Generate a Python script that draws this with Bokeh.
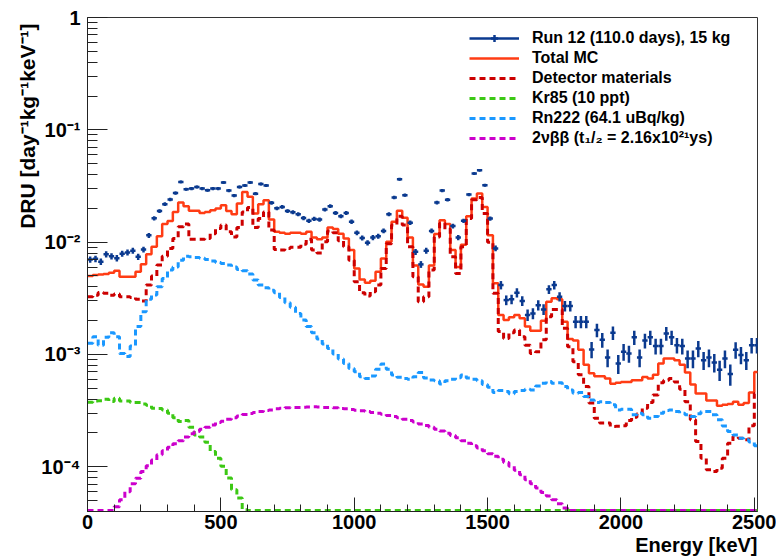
import numpy as np
from bokeh.plotting import figure
from bokeh.models import (Legend, LegendItem, Title, FixedTicker, SingleIntervalTicker,
                          CustomJSTickFormatter, Range1d)
from bokeh.embed import file_html
from bokeh.resources import INLINE

# ---------------- data (20 keV bins, 0 .. 2520 keV) ----------------
bin_width = 20.0
bin_edges = np.arange(0, 2521, 20)

data_run12 = [
    0.0070, 0.0071, 0.0067, 0.0078, 0.0075, 0.0072, 0.0079, 0.0081, 0.0084, 0.0074,
    0.0086, 0.0115, 0.0163, 0.0189, 0.0218, 0.0240, 0.0274, 0.0344, 0.0296, 0.0300,
    0.0310, 0.0300, 0.0290, 0.0300, 0.0300, 0.0340, 0.0288, 0.0260, 0.0310, 0.0320,
    0.0340, 0.0270, 0.0330, 0.0320, 0.0224, 0.0200, 0.0206, 0.0189, 0.0185, 0.0177,
    0.0164, 0.0155, 0.0161, 0.0159, 0.0195, 0.0209, 0.0182, 0.0170, 0.0182, 0.0152,
    0.0121, 0.0109, 0.00986, 0.0110, 0.0113, 0.0126, 0.0177, 0.0250, 0.0363, 0.0262,
    0.0149, 0.0082, 0.00634, 0.0084, 0.0126, 0.0225, 0.0288, 0.0239, 0.0139, 0.0110,
    0.0155, 0.0265, 0.0408, 0.0437, 0.0321, 0.0162, 0.0088,
    0.00415, 0.00305, 0.0031, 0.00355, 0.0030, 0.00225, 0.00232, 0.00275, 0.00252, 0.0038,
    0.00415, 0.00327, 0.0027, 0.0027, 0.00196, 0.00196, 0.00196, 0.00111, 0.00165, 0.00135,
    0.00094, 0.00156, 0.00083, 0.00106, 0.00102, 0.00142, 0.00094, 0.00133, 0.00142, 0.00119,
    0.00119, 0.00154, 0.00142, 0.00121, 0.00119, 0.00092, 0.00092, 0.00113, 0.00089, 0.00094,
    0.00085, 0.00073, 0.00092, 0.00067, 0.0011, 0.00099, 0.00089, 0.00121, 0.00121,
]

total_mc = [
    0.00499, 0.0051, 0.00516, 0.0052, 0.00533, 0.00556, 0.00492, 0.00492, 0.00492, 0.00545,
    0.00637, 0.00782, 0.0091, 0.0113, 0.0145, 0.0154, 0.0186, 0.0225, 0.0209, 0.0190,
    0.0190, 0.0182, 0.0186, 0.0192, 0.0199, 0.0213, 0.0189, 0.0177, 0.0221, 0.0280,
    0.0253, 0.0180, 0.0218, 0.0236, 0.0159, 0.0124, 0.0121, 0.0119, 0.0121, 0.0121,
    0.0119, 0.0124, 0.0110, 0.0106, 0.0110, 0.0135, 0.0131, 0.0119, 0.0108, 0.0085,
    0.00583, 0.00466, 0.00435, 0.00453, 0.00545, 0.00716, 0.0101, 0.0152, 0.0190, 0.0165,
    0.0110, 0.0062, 0.0042, 0.0040, 0.0062, 0.0118, 0.0157, 0.0145, 0.0085, 0.0060,
    0.0095, 0.0170, 0.0245, 0.0271, 0.0206, 0.0115, 0.0043, 0.00225, 0.00203, 0.00214,
    0.00225, 0.0021, 0.00177,
    0.00163, 0.00163, 0.0020, 0.00295, 0.00316, 0.0031, 0.00196, 0.00137, 0.00133, 0.0011,
    0.00081, 0.00068, 0.00064, 0.00064, 0.00061, 0.00055, 0.00056, 0.00057, 0.00057, 0.00059,
    0.00059, 0.00063, 0.00061, 0.00066, 0.00083, 0.00092, 0.00092, 0.00089, 0.00081, 0.00069,
    0.00054, 0.00045, 0.00045, 0.00039, 0.00039, 0.00035, 0.000356, 0.000363, 0.00038, 0.000356,
    0.00037, 0.000458, 0.0007,
]

detector_materials = [
    0.00327, 0.00336, 0.00357, 0.0035, 0.00336, 0.00345, 0.00327, 0.00327, 0.00322, 0.0031,
    0.00299, 0.00415, 0.0050, 0.00625, 0.0075, 0.0088, 0.0108, 0.0137, 0.0145, 0.0106,
    0.0106, 0.0106, 0.0108, 0.0119, 0.0132, 0.0142, 0.0124, 0.0111, 0.0135, 0.0186,
    0.0203, 0.0135, 0.0162, 0.0186, 0.0128, 0.0086, 0.0085, 0.0088, 0.0090, 0.0090,
    0.0096, 0.0106, 0.0085, 0.0080, 0.0101, 0.0126, 0.0121, 0.0103, 0.0091, 0.0069,
    0.00444, 0.00355, 0.00331, 0.00362, 0.00415, 0.00583, 0.0097, 0.0142, 0.0170, 0.0142,
    0.0091, 0.00492, 0.00295, 0.00327, 0.00564, 0.0111, 0.0147, 0.0130, 0.0074, 0.00527,
    0.0091, 0.0162, 0.0239, 0.0250, 0.0180, 0.0100, 0.0035, 0.0016, 0.00139, 0.00156,
    0.00165, 0.00144, 0.00121,
    0.00102, 0.00106, 0.00135, 0.00217, 0.00252, 0.00252, 0.00171, 0.00117, 0.00086, 0.00066,
    0.00052, 0.00037, 0.00027, 0.000245, 0.000246, 0.000228, 0.00023, 0.000232, 0.000258, 0.000276,
    0.000296, 0.000332, 0.000373, 0.000436, 0.00056, 0.00059, 0.00061, 0.00057, 0.00049, 0.00038,
    0.000262, 0.000168, 0.000119, 0.000094, 0.000091, 0.000097, 0.000119, 0.000162, 0.000186, 0.00018,
    0.000174, 0.000232, 0.00045,
]

kr85 = [
    3.76e-4, 3.86e-4, 3.88e-4, 3.99e-4, 3.81e-4, 4.08e-4, 3.86e-4, 3.86e-4, 3.73e-4, 3.73e-4,
    3.63e-4, 3.53e-4, 3.32e-4, 3.30e-4, 3.21e-4, 3.00e-4, 2.74e-4, 2.53e-4, 2.58e-4, 2.25e-4,
    1.92e-4, 1.84e-4, 1.65e-4, 1.37e-4, 1.19e-4, 1.01e-4, 7.94e-5, 6.25e-5, 5.27e-5, 4.15e-5,
    0, 0, 0, 0, 0, 0, 0, 0, 0, 0, 0, 0, 0, 0, 0, 0, 0, 0, 0, 0,
    0, 0, 0, 0, 0, 0, 0, 0, 0, 0, 0, 0, 0, 0, 0, 0, 0, 0, 0, 0,
    0, 0, 0, 0, 0, 0, 0, 0, 0, 0, 0, 0, 0, 0, 0, 0, 0, 0, 0, 0,
    0, 0, 0, 0, 0, 0, 0, 0, 0, 0, 0, 0, 0, 0, 0, 0, 0, 0, 0, 0,
    0, 0, 0, 0, 0, 0, 0, 0, 0, 0, 0, 0, 0, 0, 0, 0,
]

rn222 = [
    0.00126, 0.00144, 0.00121, 0.00142, 0.00156, 0.00144, 0.00102, 0.00096, 0.00119, 0.00177,
    0.0024, 0.0031, 0.00338, 0.0040, 0.00475, 0.00564, 0.0060, 0.0069, 0.0075, 0.0074,
    0.0073, 0.0072, 0.0070, 0.0068, 0.0066, 0.00646, 0.00625, 0.0060, 0.00572, 0.00556,
    0.0052, 0.0046, 0.00415, 0.00393, 0.00374, 0.00355, 0.00322, 0.00289, 0.00263, 0.00232,
    0.00203, 0.00177, 0.00156, 0.00137, 0.00124, 0.00113, 0.00101, 0.00091, 0.00083, 0.00075,
    0.000703, 0.000635, 0.00061, 0.000644, 0.000738, 0.000824, 0.000738, 0.000657, 0.000627, 0.00061,
    0.000602, 0.000635, 0.00069, 0.000618, 0.000593, 0.000585, 0.000547, 0.000585, 0.000602, 0.000622,
    0.000657, 0.000618, 0.000602, 0.000585, 0.00054, 0.00051, 0.000458, 0.000477, 0.000468, 0.000446,
    0.000468, 0.000477, 0.00049,
    0.000483, 0.000525, 0.000555, 0.000574, 0.000555, 0.00056, 0.000518, 0.000483, 0.000452, 0.000458,
    0.000422, 0.000394, 0.000373, 0.00038, 0.000373, 0.000356, 0.000321, 0.000325, 0.000325, 0.00029,
    0.0003, 0.00029, 0.000271, 0.00028, 0.0003, 0.000317, 0.000321, 0.00031, 0.0003, 0.00029,
    0.00028, 0.000296, 0.00031, 0.00031, 0.00029, 0.000262, 0.000231, 0.000206, 0.000192, 0.00018,
    0.000174, 0.000166, 0.000154,
]

two_nu_bb = [
    0, 0, 0, 0, 0, 4.4e-5, 5.1e-5, 6.0e-5, 7.06e-5, 7.9e-5,
    9.1e-5, 1.02e-4, 1.15e-4, 1.28e-4, 1.39e-4, 1.49e-4, 1.60e-4, 1.71e-4, 1.84e-4, 1.97e-4,
    2.06e-4, 2.16e-4, 2.25e-4, 2.36e-4, 2.48e-4, 2.55e-4, 2.65e-4, 2.74e-4, 2.84e-4, 2.92e-4,
    2.98e-4, 3.04e-4, 3.10e-4, 3.17e-4, 3.21e-4, 3.28e-4, 3.32e-4, 3.35e-4, 3.37e-4, 3.37e-4,
    3.39e-4, 3.41e-4, 3.42e-4, 3.40e-4, 3.38e-4, 3.37e-4, 3.35e-4, 3.30e-4, 3.28e-4, 3.23e-4,
    3.19e-4, 3.16e-4, 3.10e-4, 3.04e-4, 3.00e-4, 2.94e-4, 2.86e-4, 2.80e-4, 2.73e-4, 2.65e-4,
    2.58e-4, 2.50e-4, 2.41e-4, 2.33e-4, 2.25e-4, 2.16e-4, 2.08e-4, 1.99e-4, 1.90e-4, 1.81e-4,
    1.71e-4, 1.62e-4, 1.54e-4, 1.47e-4, 1.39e-4, 1.31e-4, 1.24e-4, 1.17e-4, 1.09e-4, 1.01e-4,
    9.3e-5, 8.5e-5, 7.66e-5, 7.06e-5, 6.46e-5, 5.9e-5, 5.5e-5, 5.1e-5, 4.7e-5, 4.3e-5,
    0, 0, 0, 0, 0, 0, 0, 0, 0, 0, 0, 0, 0, 0, 0, 0, 0, 0,
    0, 0, 0, 0, 0, 0, 0, 0, 0, 0, 0, 0, 0, 0, 0, 0, 0, 0,
]

y_major_ticks = [1e-4, 1e-3, 1e-2, 1e-1, 1.0]
exposure = 110.0 * 15.0 * bin_width   # day * kg * keV per bin

legend_labels = [
    "Run 12 (110.0 days), 15 kg",
    "Total MC",
    "Detector materials",
    "Kr85 (10 ppt)",
    "Rn222 (64.1 uBq/kg)",
    "2\u03bd\u03b2\u03b2 (t\u2081/\u2082 = 2.16x10\u00b2\u00b9ys)",
]
x_title = "Energy [keV]"
y_title = "DRU [day\u207b\u00b9kg\u207b\u00b9keV\u207b\u00b9]"

for arr in (data_run12, total_mc, detector_materials, kr85, rn222, two_nu_bb):
    assert len(arr) == len(bin_edges) - 1, len(arr)

# ---------------- geometry / style ----------------
W, H = 776, 559
FL, FR, FT, FB = 87, 757, 17, 511
XMIN, XMAX = 0.0, 2512.0
YMIN, YMAX = 4e-5, 1.0
FLOOR = YMIN * 1.02

FONT = "Liberation Sans"
C_DATA = "#0b3a8f"
C_MC = "#ff3c14"
C_DET = "#cc0000"
C_KR = "#3cc814"
C_RN = "#1a98ff"
C_BB = "#cc00cc"
DASH = "6 4"

p = figure(width=W, height=H, x_range=Range1d(XMIN, XMAX), y_range=Range1d(YMIN, YMAX),
           y_axis_type="log", output_backend="svg", toolbar_location=None,
           min_border_left=FL, min_border_right=W - FR, min_border_top=FT,
           min_border_bottom=H - FB)
p.xgrid.grid_line_color = None
p.ygrid.grid_line_color = None
p.outline_line_color = "#333333"
p.outline_line_width = 1
p.background_fill_color = "white"
p.border_fill_color = "white"

# x axis
p.xaxis.ticker = SingleIntervalTicker(interval=500, num_minor_ticks=5)
p.xaxis.major_tick_in = 14
p.xaxis.major_tick_out = 0
p.xaxis.minor_tick_in = 7
p.xaxis.minor_tick_out = 0
p.xaxis.major_label_standoff = 3
# y axis
minor = []
for dec in [1e-5, 1e-4, 1e-3, 1e-2, 1e-1]:
    for m in range(2, 10):
        minor.append(m * dec)
p.yaxis.ticker = FixedTicker(ticks=y_major_ticks, minor_ticks=minor)
p.yaxis.formatter = CustomJSTickFormatter(code="""
    if (Math.abs(tick - 1) < 1e-9) { return "1"; }
    const e = Math.round(Math.log10(tick));
    const sup = {"-": "\\u207b", "0": "\\u2070", "1": "\\u00b9", "2": "\\u00b2", "3": "\\u00b3",
                 "4": "\\u2074", "5": "\\u2075", "6": "\\u2076", "7": "\\u2077", "8": "\\u2078", "9": "\\u2079"};
    return "10" + String(e).split("").map(function(c) { return sup[c]; }).join("");
""")
p.yaxis.major_tick_in = 20
p.yaxis.major_tick_out = 0
p.yaxis.minor_tick_in = 10
p.yaxis.minor_tick_out = 0
p.yaxis.major_label_standoff = 7
for ax in (p.xaxis, p.yaxis):
    ax.major_label_text_font = FONT
    ax.major_label_text_font_style = "bold"
    ax.major_label_text_font_size = "20px"
    ax.major_label_text_color = "black"
    ax.axis_line_color = "#222222"
    ax.major_tick_line_color = "#222222"
    ax.minor_tick_line_color = "#222222"

# axis titles, right / top aligned like the original
p.add_layout(Title(text=x_title, align="right", text_font=FONT, text_font_style="bold",
                   text_font_size="20px", text_color="black", standoff=0), "below")
p.add_layout(Title(text=y_title, align="right", text_font=FONT, text_font_style="bold",
                   text_font_size="21px", text_color="black", standoff=0, offset=6), "left")

# ---------------- histograms ----------------
def step_y(vals):
    v = np.asarray(vals, dtype=float)
    v = np.where(v > 0, v, FLOOR)
    return np.append(v, v[-1])


r_mc = p.step(x=bin_edges, y=step_y(total_mc), mode="after", line_color=C_MC, line_width=2.5)
r_det = p.step(x=bin_edges, y=step_y(detector_materials), mode="after", line_color=C_DET,
               line_width=3, line_dash=DASH)
r_kr = p.step(x=bin_edges, y=step_y(kr85), mode="after", line_color=C_KR, line_width=3, line_dash=DASH)
r_rn = p.step(x=bin_edges, y=step_y(rn222), mode="after", line_color=C_RN, line_width=3, line_dash=DASH)
r_bb = p.step(x=bin_edges, y=step_y(two_nu_bb), mode="after", line_color=C_BB, line_width=3,
              line_dash=DASH)

# data points with error bars
centers = bin_edges[:-1] + bin_width / 2
dv = np.asarray(data_run12, dtype=float)
err = np.sqrt(dv * exposure) / exposure
r_h = p.segment(x0=centers - bin_width / 2, y0=dv, x1=centers + bin_width / 2, y1=dv,
                line_color=C_DATA, line_width=2.5)
r_v = p.segment(x0=centers, y0=dv - err, x1=centers, y1=dv + err, line_color=C_DATA, line_width=2.5)
r_pt = p.scatter(x=centers, y=dv, marker="cross", size=1, line_color=C_DATA, line_width=2.5)

# ---------------- legend ----------------
items = [
    LegendItem(label=legend_labels[0], renderers=[r_h, r_pt]),
    LegendItem(label=legend_labels[1], renderers=[r_mc]),
    LegendItem(label=legend_labels[2], renderers=[r_det]),
    LegendItem(label=legend_labels[3], renderers=[r_kr]),
    LegendItem(label=legend_labels[4], renderers=[r_rn]),
    LegendItem(label=legend_labels[5], renderers=[r_bb]),
]
ROW_H, GAP = 18, 2
leg_h = 6 * ROW_H + 5 * GAP
legend = Legend(items=items, location=(469 - FL, FB - 29 - leg_h), orientation="vertical",
                glyph_width=50, glyph_height=ROW_H, label_height=ROW_H, label_standoff=13,
                spacing=GAP, padding=0, margin=0, border_line_alpha=0, background_fill_alpha=0,
                label_text_font=FONT, label_text_font_style="bold", label_text_font_size="16px",
                label_text_color="black")
p.add_layout(legend)

open("out.html", "w").write(file_html(p, INLINE))
